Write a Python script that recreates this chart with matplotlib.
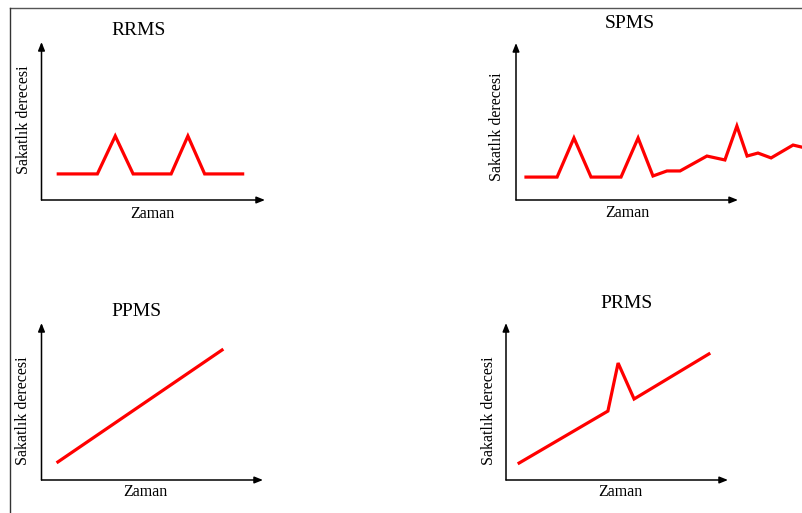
import matplotlib
matplotlib.use("Agg")
import matplotlib.pyplot as plt
from matplotlib.lines import Line2D

W, H = 802, 513
plt.rcParams['font.family'] = ['Liberation Serif', 'DejaVu Serif']

titles = ["RRMS", "SPMS", "PPMS", "PRMS"]
xlabel = "Zaman"
ylabel = "Sakatlık derecesi"

rrms_t = [0.75, 2.5, 3.3, 4.1, 5.8, 6.55, 7.3, 9.0]
rrms_v = [1.65, 1.65, 4.05, 1.65, 1.65, 4.05, 1.65, 1.65]

spms_t = [0.45, 1.85, 2.61, 3.38, 4.73, 5.50, 6.17, 6.80, 7.39, 8.60, 9.41, 9.95, 10.41, 10.90, 11.49, 12.48, 12.84]
spms_v = [1.46, 1.46, 3.95, 1.46, 1.46, 3.95, 1.53, 1.85, 1.85, 2.80, 2.55, 4.71, 2.80, 2.99, 2.68, 3.50, 3.38]

ppms_t = [0.74, 8.15]
ppms_v = [1.15, 8.28]

prms_t = [0.59, 4.59, 5.05, 5.77, 9.14]
prms_v = [1.08, 4.39, 7.45, 5.16, 8.03]

series = [(rrms_t, rrms_v), (spms_t, spms_v), (ppms_t, ppms_v), (prms_t, prms_v)]

# layout in pixels: (axis origin x, axis origin y, arrow tip x, arrow tip y)
boxes = [(41.5, 200, 265, 42), (516, 200, 738, 43), (41.5, 480, 263, 323), (506, 480, 728, 323)]
title_pos = [(138.5, 30.5), (630, 24), (136.5, 311), (627, 304)]
xlab_pos = [(152, 214), (627, 213), (145, 492), (620, 492)]
ylab_pos = [(24, 120), (497, 127), (23, 411), (489, 411)]

fig = plt.figure(figsize=(W / 100, H / 100), dpi=100)
fig.patch.set_facecolor('white')

def fx(px):
    return px / W

def fy(py):
    return 1 - py / H

for i, ((t, v), (x0, y0, x1, y1)) in enumerate(zip(series, boxes)):
    ax = fig.add_axes([fx(x0), fy(y0), (x1 - x0) / W, (y0 - y1) / H])
    ax.set_xlim(0, 10)
    ax.set_ylim(0, 10)
    ax.axis('off')
    ax.plot(t, v, color='#ff0000', lw=2.3, clip_on=False, solid_joinstyle='miter')
    ap = dict(arrowstyle='-|>,head_length=0.5,head_width=0.2', color='black', lw=1.1,
              shrinkA=0, shrinkB=0, mutation_scale=10)
    ax.annotate('', xy=(1, 0), xytext=(0, 0), xycoords='axes fraction', arrowprops=ap)
    ax.annotate('', xy=(0, 1), xytext=(0, 0), xycoords='axes fraction', arrowprops=ap)
    fig.text(fx(title_pos[i][0]), fy(title_pos[i][1]), titles[i], ha='center', va='center', fontsize=14)
    fig.text(fx(xlab_pos[i][0]), fy(xlab_pos[i][1]), xlabel, ha='center', va='center', fontsize=11.5)
    fig.text(fx(ylab_pos[i][0]), fy(ylab_pos[i][1]), ylabel, ha='center', va='center', fontsize=11.5, rotation=90)

# frame lines (top and left)
fig.add_artist(Line2D([fx(10), 1], [fy(8), fy(8)], color='#555555', lw=1.0))
fig.add_artist(Line2D([fx(10), fx(10)], [fy(8), 0], color='#333333', lw=1.0))

fig.savefig('out.png', dpi=100)
